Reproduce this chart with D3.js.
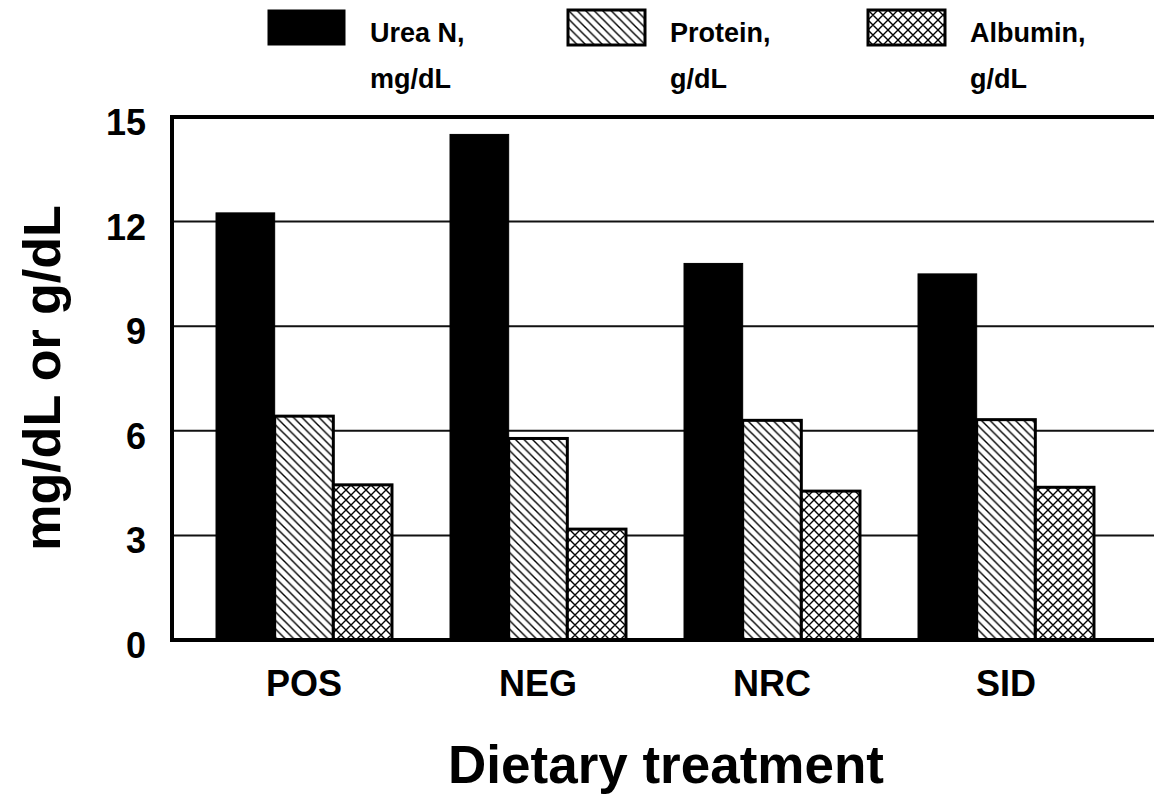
<!DOCTYPE html>
<html>
<head>
<meta charset="utf-8">
<script src="https://cdn.jsdelivr.net/npm/d3@7"></script>
<style>
  body { margin: 0; background: white; }
  text { font-family: 'Liberation Sans', Arial, sans-serif; font-weight: bold; fill: black; }
</style>
</head>
<body>
<svg id="chart"></svg>
<script>
const categories = ['POS', 'NEG', 'NRC', 'SID']
const seriesNames = ['Urea N,|mg/dL', 'Protein,|g/dL', 'Albumin,|g/dL']
const ureaN = [12.25, 14.5, 10.8, 10.5]
const protein = [6.42, 5.78, 6.3, 6.32]
const albumin = [4.45, 3.18, 4.27, 4.38]
const yTicks = [0, 3, 6, 9, 12, 15]

let width = 1154,
    height = 797

let svg = d3.select('#chart')
    .attr('width', width)
    .attr('height', height)

let defs = svg.append('defs')

// diagonal hatch for protein
defs.append('pattern')
    .attr('id', 'hatch')
    .attr('patternUnits', 'userSpaceOnUse')
    .attr('width', 8.5)
    .attr('height', 8.5)
    .call(p => {
        p.append('rect').attr('width', 8.5).attr('height', 8.5).attr('fill', 'white')
        p.append('path')
            .attr('d', 'M0,0 L8.5,8.5 M-4.25,4.25 L4.25,12.75 M4.25,-4.25 L12.75,4.25')
            .attr('stroke', 'black')
            .attr('stroke-width', 1.4)
    })

// cross hatch for albumin
defs.append('pattern')
    .attr('id', 'cross')
    .attr('patternUnits', 'userSpaceOnUse')
    .attr('width', 10)
    .attr('height', 10)
    .call(p => {
        p.append('rect').attr('width', 10).attr('height', 10).attr('fill', 'white')
        p.append('path')
            .attr('d', 'M0,0 L10,10 M-5,5 L5,15 M5,-5 L15,5 M10,0 L0,10 M5,-5 L-5,5 M15,5 L5,15')
            .attr('stroke', 'black')
            .attr('stroke-width', 1.4)
    })

const fills = ['black', 'url(#hatch)', 'url(#cross)']

let axisX = 172
let scaleY = d3.scaleLinear().domain([0, 15]).range([640, 117])
let scaleX = d3.scaleBand().domain(categories).range([187, 1123]).paddingInner(0.248).paddingOuter(0.124)
let scaleSeries = d3.scaleBand().domain([0, 1, 2]).range([0, scaleX.bandwidth()])

// gridlines
svg.append('g').selectAll('line.grid')
    .data(yTicks.filter(t => t > 0 && t < 15))
    .enter().append('line')
    .attr('x1', axisX).attr('x2', width)
    .attr('y1', d => scaleY(d)).attr('y2', d => scaleY(d))
    .attr('stroke', '#111')
    .attr('stroke-width', 2)

// top frame line
svg.append('line')
    .attr('x1', axisX - 2).attr('x2', width)
    .attr('y1', scaleY(15)).attr('y2', scaleY(15))
    .attr('stroke', 'black').attr('stroke-width', 4)

let data = categories.map((c, i) => [ureaN[i], protein[i], albumin[i]])

let groups = svg.append('g').selectAll('g.group')
    .data(data)
    .enter().append('g')
    .attr('transform', (d, i) => 'translate(' + scaleX(categories[i]) + ',0)')

groups.selectAll('rect.bar')
    .data(d => d)
    .enter().append('rect')
    .attr('class', 'bar')
    .attr('x', (d, i) => scaleSeries(i))
    .attr('width', scaleSeries.bandwidth())
    .attr('y', d => scaleY(d))
    .attr('height', d => scaleY(0) - scaleY(d))
    .attr('fill', (d, i) => fills[i])
    .attr('stroke', 'black')
    .attr('stroke-width', (d, i) => i === 0 ? 1 : 3)

// axes lines
svg.append('line')
    .attr('x1', axisX).attr('x2', axisX)
    .attr('y1', scaleY(15) - 2).attr('y2', scaleY(0) + 2)
    .attr('stroke', 'black').attr('stroke-width', 4)
svg.append('line')
    .attr('x1', axisX - 2).attr('x2', width)
    .attr('y1', scaleY(0)).attr('y2', scaleY(0))
    .attr('stroke', 'black').attr('stroke-width', 4)

// y tick labels
svg.append('g').selectAll('text')
    .data(yTicks)
    .enter().append('text')
    .attr('x', 146)
    .attr('y', d => scaleY(d) + 18)
    .attr('text-anchor', 'end')
    .attr('font-size', 36)
    .text(d => d)

// x labels
svg.append('g').selectAll('text')
    .data(categories)
    .enter().append('text')
    .attr('x', d => scaleX(d) + scaleX.bandwidth() / 2)
    .attr('y', 696)
    .attr('text-anchor', 'middle')
    .attr('font-size', 36)
    .text(d => d)

// axis titles
svg.append('text')
    .attr('x', 666)
    .attr('y', 783)
    .attr('text-anchor', 'middle')
    .attr('font-size', 53)
    .text('Dietary treatment')

svg.append('text')
    .attr('transform', 'translate(60,378) rotate(-90)')
    .attr('text-anchor', 'middle')
    .attr('font-size', 52)
    .text('mg/dL or g/dL')

// legend
let legendX = [268, 568, 868]
let legend = svg.append('g').selectAll('g.legend')
    .data(seriesNames)
    .enter().append('g')
    .attr('transform', (d, i) => 'translate(' + legendX[i] + ',10)')
legend.append('rect')
    .attr('width', 77).attr('height', 35)
    .attr('fill', (d, i) => fills[i])
    .attr('stroke', 'black')
    .attr('stroke-width', (d, i) => i === 0 ? 1 : 3)
legend.each(function(d) {
    let lines = d.split('|')
    d3.select(this).selectAll('text.l')
        .data(lines)
        .enter().append('text')
        .attr('x', 102)
        .attr('y', (t, j) => 32 + j * 46)
        .attr('font-size', 27)
        .text(t => t)
})
</script>
</body>
</html>
